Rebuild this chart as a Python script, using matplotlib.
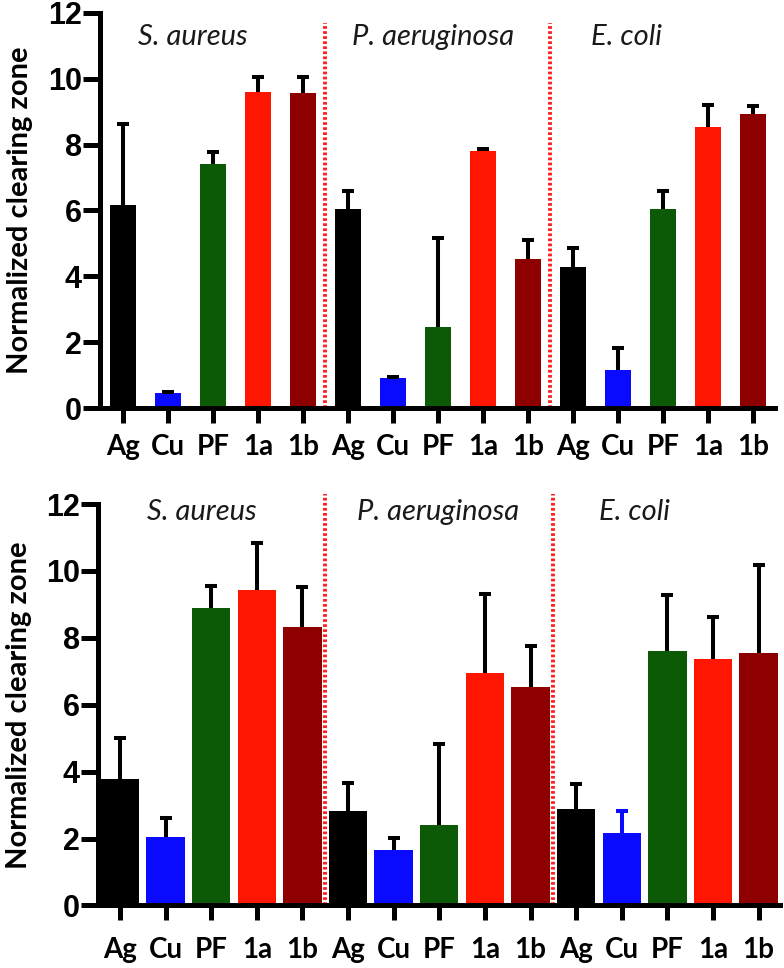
import matplotlib
matplotlib.use("Agg")
import matplotlib.pyplot as plt
import numpy as np

# ---- data ----
categories = ['Ag', 'Cu', 'PF', '1a', '1b']
species = ['S. aureus', 'P. aeruginosa', 'E. coli']

top_means = [[6.17, 0.47, 7.42, 9.60, 9.57],
             [6.04, 0.92, 2.45, 7.82, 4.52],
             [4.28, 1.16, 6.04, 8.53, 8.93]]
top_errs = [[2.45, 0.03, 0.37, 0.47, 0.50],
            [0.56, 0.03, 2.70, 0.04, 0.59],
            [0.57, 0.65, 0.56, 0.66, 0.24]]

bottom_means = [[3.78, 2.04, 8.88, 9.42, 8.33],
                [2.81, 1.66, 2.41, 6.96, 6.52],
                [2.88, 2.16, 7.61, 7.36, 7.56]]
bottom_errs = [[1.23, 0.57, 0.67, 1.42, 1.19],
               [0.84, 0.37, 2.41, 2.34, 1.24],
               [0.75, 0.67, 1.66, 1.27, 2.63]]

yticks = [0, 2, 4, 6, 8, 10, 12]
ylabel = 'Normalized clearing zone'

# ---- style ----
bar_colors = ['#000000', '#0a0aff', '#0c5a05', '#ff1600', '#8e0000']
DPI = 100
fig = plt.figure(figsize=(7.84, 9.68), dpi=DPI)

panels = [
    dict(means=top_means, errs=top_errs, rect=[0.1276, 0.5785, 0.8609, 0.4081],
         xlim=(-0.51, 14.49), width=0.56, title_x=[1.56, 6.89, 11.18], title_y=11.27,
         vline_top=11.7, xpad=8, ylabel_x=-0.10,
         err_colors=[['k'] * 5, ['k'] * 5, ['k'] * 5]),
    dict(means=bottom_means, errs=bottom_errs, rect=[0.125, 0.0646, 0.870, 0.4147],
         xlim=(-0.48, 14.47), width=0.84, title_x=[1.8, 6.97, 11.27], title_y=11.75,
         vline_top=12.3, xpad=12, ylabel_x=-0.097,
         err_colors=[['k'] * 5, ['k'] * 5, ['k', '#0a0aff', 'k', 'k', 'k']]),
]

ncat = len(categories)
for p in panels:
    ax = fig.add_axes(p['rect'])
    xs_all, labels = [], []
    for g, (m, e) in enumerate(zip(p['means'], p['errs'])):
        xs = np.arange(ncat) + g * ncat
        ax.bar(xs, m, width=p['width'], color=bar_colors, zorder=2)
        for x, v, err, ec in zip(xs, m, e, p['err_colors'][g]):
            cont = ax.errorbar([x], [v], yerr=[[0], [err]], fmt='none', ecolor=ec,
                               elinewidth=2.9, capsize=4.5, capthick=2.9, zorder=3)
            caps = cont.lines[1]
            if len(caps) > 1:
                caps[0].set_visible(False)
        xs_all.extend(xs)
        labels.extend(categories)
        ax.text(p['title_x'][g], p['title_y'], species[g], ha='center', va='center',
                fontsize=21, style='italic', family='Lato', color='#1a1a1a')
    for xv in [ncat - 0.5, 2 * ncat - 0.5]:
        ax.plot([xv, xv], [0, p['vline_top']], color='#ff2020', lw=2.8,
                linestyle=(0, (0.7, 0.6)), zorder=1, clip_on=False)
    ax.set_xlim(*p['xlim'])
    ax.set_ylim(0, 12)
    ax.set_yticks(yticks)
    ax.set_yticklabels([str(t) for t in yticks], fontsize=22, fontweight='bold',
                       family='Liberation Sans')
    ax.set_xticks(xs_all)
    ax.set_xticklabels(labels, fontsize=20, fontweight='bold', family='Lato')
    for s in ['top', 'right']:
        ax.spines[s].set_visible(False)
    for s in ['left', 'bottom']:
        ax.spines[s].set_linewidth(3.6)
    ax.tick_params(axis='y', length=12, width=3.6, pad=1)
    ax.tick_params(axis='x', length=10.5, width=3.6, pad=p['xpad'])
    ax.set_ylabel(ylabel, fontsize=21, fontweight='bold', family='Lato')
    ax.yaxis.set_label_coords(p['ylabel_x'], 0.5)

fig.savefig('out.png', dpi=DPI)
